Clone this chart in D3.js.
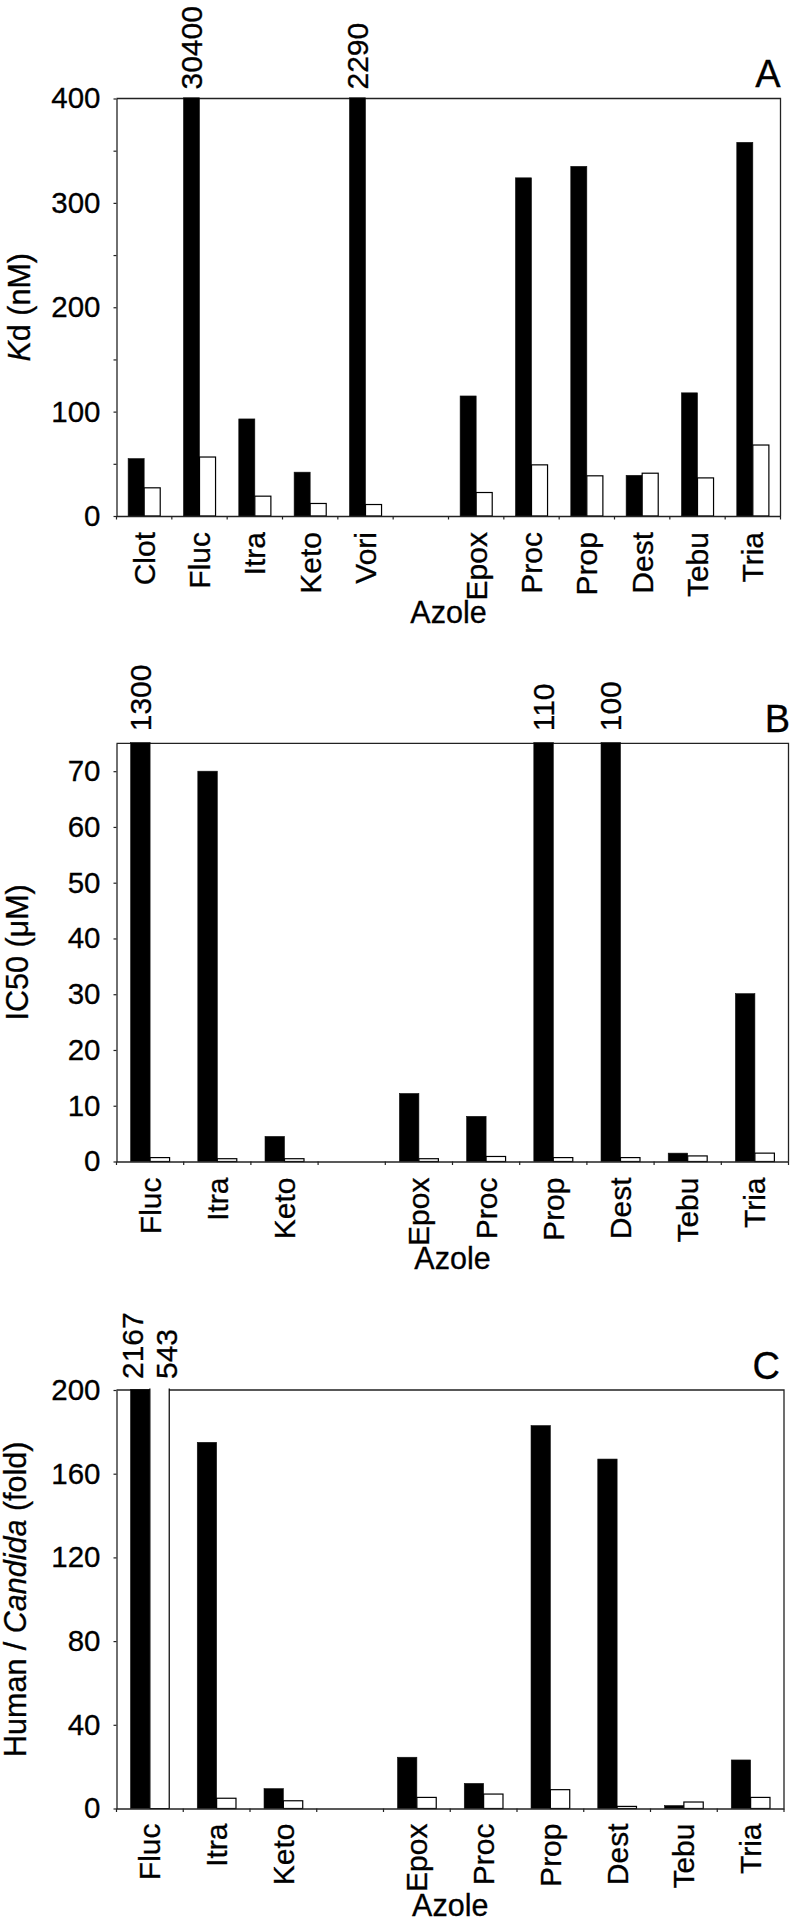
<!DOCTYPE html>
<html><head><meta charset="utf-8">
<script src="https://cdn.jsdelivr.net/npm/d3@7"></script>
<style>
body{margin:0;background:#fff}
svg{display:block}
text{font-family:"Liberation Sans",Arial,Helvetica,sans-serif;fill:#000;stroke:#000;stroke-width:0.3px}
</style>
</head><body>
<svg id="chart" width="792" height="1920"></svg>
<script>
// ---------- Data ----------
// Panel A: Kd (nM)
const categoriesA = ["Clot","Fluc","Itra","Keto","Vori","","Epox","Proc","Prop","Dest","Tebu","Tria"];
const humanA   = [55, 30400, 93, 42, 2290, null, 115, 324, 335, 39, 118, 358];
const candidaA = [27, 56.5, 19, 12, 11, null, 22.5, 49, 38.5, 41, 36.5, 68];
const yTicksA = [0, 100, 200, 300, 400];
const yMinorTicksA = [50, 150, 250, 350];
const yMaxA = 400;

// Panel B: IC50 (uM)
const categoriesB = ["Fluc","Itra","Keto","","Epox","Proc","Prop","Dest","Tebu","Tria"];
const humanB   = [1300, 70, 4.5, null, 12.2, 8.1, 110, 100, 1.5, 30.1];
const candidaB = [0.7, 0.5, 0.5, null, 0.5, 0.9, 0.7, 0.7, 1.0, 1.5];
const yTicksB = [0, 10, 20, 30, 40, 50, 60, 70];
const yMaxB = 75;

// Panel C: Human / Candida (fold)
const categoriesC = ["Fluc","Itra","Keto","","Epox","Proc","Prop","Dest","Tebu","Tria"];
const humanC   = [2167, 175, 9.5, null, 24.5, 12, 183, 167, 1.4, 23.2];
const candidaC = [543, 4.9, 3.7, null, 5.3, 6.9, 9.0, 1.0, 3.1, 5.3];
const yTicksC = [0, 40, 80, 120, 160, 200];
const yMaxC = 200;

const xTitle = "Azole";

// ---------- Drawing ----------
const svg = d3.select("#chart");
const FONT = '"Liberation Sans",Arial,Helvetica,sans-serif';

function drawPanel(cfg) {
  const x = d3.scaleBand().domain(cfg.cats).range([cfg.left, cfg.right]).padding(0);
  const bw = x.bandwidth();
  const sub = d3.scaleBand().domain(["human","candida"]).range([bw * 0.21, bw * 0.79]).padding(0);
  const y = d3.scaleLinear().domain([0, cfg.max]).range([cfg.bottom, cfg.top]);
  const g = svg.append("g");
  const y0 = y(0), yTop = y(cfg.max);

  // frame (top + right)
  g.append("path")
    .attr("d", `M${cfg.left},${yTop}H${cfg.right}V${y0}`)
    .attr("fill", "none").attr("stroke", "#222").attr("stroke-width", 1.3);

  const rows = cfg.cats.map((c, i) => ({c, h: cfg.human[i], w: cfg.candida[i]})).filter(d => d.h != null);

  // human (black) bars
  g.selectAll("rect.h").data(rows).join("rect").attr("class", "h")
    .attr("x", d => x(d.c) + sub("human"))
    .attr("width", sub.bandwidth())
    .attr("y", d => d.h > cfg.max ? yTop - 0.7 : y(d.h))
    .attr("height", d => y0 - (d.h > cfg.max ? yTop - 0.7 : y(d.h)))
    .attr("fill", "#000").attr("stroke", "#111").attr("stroke-width", 0.6);

  // candida (white) bars
  rows.forEach(d => {
    const bx = x(d.c) + sub("candida"), bwid = sub.bandwidth();
    if (d.w > cfg.max) {
      g.append("rect").attr("x", bx).attr("width", bwid)
        .attr("y", yTop - 1.5).attr("height", y0 - yTop + 1.5).attr("fill", "#fff");
      g.append("path").attr("d", `M${bx},${yTop - 1.5}V${y0}H${bx + bwid}V${yTop - 1.5}`)
        .attr("fill", "none").attr("stroke", "#000").attr("stroke-width", 1.2);
    } else {
      g.append("rect").attr("x", bx).attr("width", bwid)
        .attr("y", y(d.w)).attr("height", y0 - y(d.w))
        .attr("fill", "#fff").attr("stroke", "#000").attr("stroke-width", 1.2);
    }
  });

  // overflow value labels
  rows.forEach(d => {
    const both = d.h > cfg.max && d.w > cfg.max;
    const center = x(d.c) + bw / 2;
    [["human", d.h, -1], ["candida", d.w, 1]].forEach(([s, v, side]) => {
      if (v > cfg.max) {
        const cx = both ? center + side * 17 : x(d.c) + sub(s) + sub.bandwidth() / 2;
        g.append("text")
          .attr("transform", `translate(${cx},${yTop - cfg.labelGap}) rotate(-90)`)
          .attr("dy", "0.35em").attr("text-anchor", "start")
          .style("font-size", "30px").text(v);
      }
    });
  });

  // y axis
  const ya = g.append("g").attr("transform", `translate(${cfg.left},0)`)
    .call(d3.axisLeft(y).tickValues(cfg.ticks).tickSize(3).tickPadding(13).tickSizeOuter(0).tickFormat(d3.format("d")));
  ya.attr("font-family", FONT).attr("font-size", null);
  ya.selectAll("text").style("font-size", "29.5px").attr("fill", "#000");
  ya.select(".domain").attr("stroke", "#222").attr("stroke-width", 1.3);
  ya.selectAll(".tick line").attr("stroke", "#222").attr("stroke-width", 1.2);
  if (cfg.minor) {
    const ym = g.append("g").attr("transform", `translate(${cfg.left},0)`)
      .call(d3.axisLeft(y).tickValues(cfg.minor).tickSize(3).tickFormat(""));
    ym.select(".domain").remove();
    ym.selectAll(".tick line").attr("stroke", "#222").attr("stroke-width", 1.2);
  }

  // x axis (labels at band centres, ticks at band boundaries)
  const xa = g.append("g").attr("transform", `translate(0,${y0})`)
    .call(d3.axisBottom(x).tickSize(0).tickSizeOuter(0));
  xa.attr("font-family", FONT).attr("font-size", null);
  xa.select(".domain").attr("stroke", "#222").attr("stroke-width", 1.3);
  xa.selectAll("text")
    .attr("transform", "rotate(-90)")
    .attr("x", -cfg.xLabelGap).attr("y", 0).attr("dy", "0.35em")
    .attr("text-anchor", "end").style("font-size", "30px").attr("fill", "#000");
  const bounds = cfg.cats.map(c => x(c)).concat([cfg.right]);
  g.selectAll("line.bt").data(bounds).join("line").attr("class", "bt")
    .attr("x1", d => d).attr("x2", d => d)
    .attr("y1", y0).attr("y2", y0 + 3.5)
    .attr("stroke", "#222").attr("stroke-width", 1.2);

  // x title
  g.append("text").attr("x", (cfg.left + cfg.right) / 2).attr("y", y0 + 107)
    .attr("text-anchor", "middle").style("font-size", "30.5px").text(xTitle);

  // y title
  const yt = g.append("text")
    .attr("transform", `translate(${cfg.yTitleX},${(cfg.top + cfg.bottom) / 2}) rotate(-90)`)
    .attr("text-anchor", "middle").style("font-size", "30.5px");
  cfg.yTitle.forEach(p => yt.append("tspan").style("font-style", p.i ? "italic" : "normal").text(p.t));

  // panel letter
  g.append("text").attr("x", cfg.letterX).attr("y", yTop - 11.5)
    .attr("text-anchor", "end").style("font-size", "38px").text(cfg.letter);
}

drawPanel({cats: categoriesA, human: humanA, candida: candidaA, ticks: yTicksA, minor: yMinorTicksA, max: yMaxA,
  left: 116.5, right: 780.5, top: 98.5, bottom: 516,
  letter: "A", letterX: 780.5, labelGap: 9, xLabelGap: 16, yTitleX: 30,
  yTitle: [{t: "K", i: true}, {t: "d (nM)"}]});

drawPanel({cats: categoriesB, human: humanB, candida: candidaB, ticks: yTicksB, minor: null, max: yMaxB,
  left: 116.5, right: 788.5, top: 743.3, bottom: 1161.5,
  letter: "B", letterX: 790, labelGap: 12, xLabelGap: 16, yTitleX: 28,
  yTitle: [{t: "IC50 (\u03bcM)"}]});

drawPanel({cats: categoriesC, human: humanC, candida: candidaC, ticks: yTicksC, minor: null, max: yMaxC,
  left: 116.5, right: 784, top: 1390, bottom: 1808.5,
  letter: "C", letterX: 780, labelGap: 11, xLabelGap: 15, yTitleX: 26,
  yTitle: [{t: "Human / "}, {t: "Candida", i: true}, {t: " (fold)"}]});
</script>
</body></html>
